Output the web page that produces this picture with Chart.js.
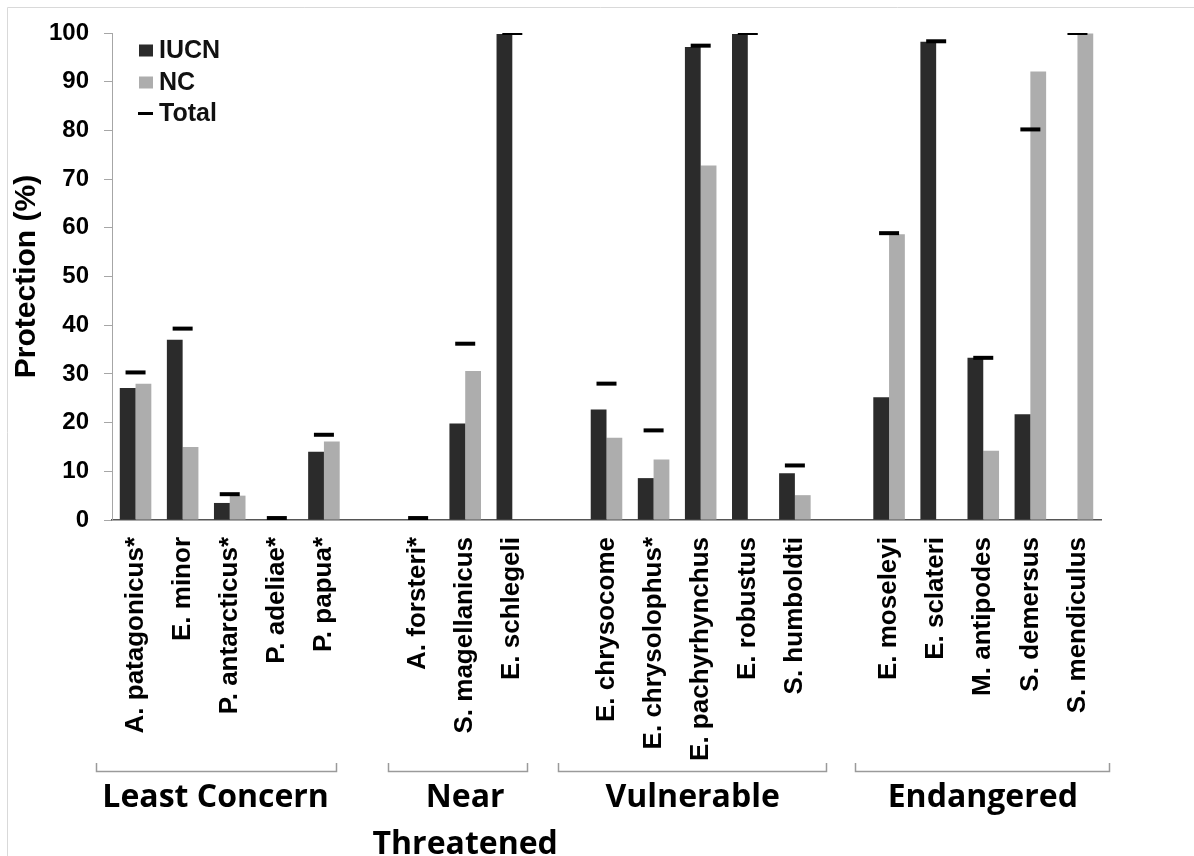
<!DOCTYPE html>
<html>
<head>
<meta charset="utf-8">
<script src="https://cdn.jsdelivr.net/npm/chart.js@4.4.1/dist/chart.umd.min.js"></script>
<style>
html,body{margin:0;padding:0;background:#fff;}
#wrap{width:1194px;height:856px;position:relative;overflow:hidden;}
canvas{display:block;}
</style>
</head>
<body>
<div id="wrap"><canvas id="c" width="1194" height="856"></canvas></div>
<script>
// ---- data ----
const categories = ['A. patagonicus*','E. minor','P. antarcticus*','P. adeliae*','P. papua*','',
  'A. forsteri*','S. magellanicus','E. schlegeli','',
  'E. chrysocome','E. chrysolophus*','E. pachyrhynchus','E. robustus','S. humboldti','',
  'E. moseleyi','E. sclateri','M. antipodes','S. demersus','S. mendiculus'];
const iucnValues  = [27.1,37.0,3.5,0,14.0,null, 0,19.8,99.8,null, 22.7,8.6,97.1,99.8,9.6,null, 25.2,98.2,33.3,21.7,0];
const ncValues    = [28.0,15.0,5.0,0,16.1,null, 0,30.6,0,null, 16.9,12.4,72.8,0,5.1,null, 58.7,0,14.2,92.1,99.9];
const totalValues = [30.3,39.3,5.3,0.4,17.5,null, 0.4,36.2,100,null, 28.0,18.4,97.4,100,11.2,null, 58.9,98.3,33.3,80.2,100];
const seriesNames = ['IUCN','NC','Total'];
const yTickValues = [0,10,20,30,40,50,60,70,80,90,100];
const groupNames = [['Least Concern'],['Near','Threatened'],['Vulnerable'],['Endangered']];

// ---- layout helpers for the group brackets (in category-index units) ----
const groupSpans = [[-0.85,4.26],[5.37,8.32],[8.97,14.67],[15.27,20.68]];
const groupLabelAt = [1.70,7.0,11.83,17.99];

const frame = {
  id:'frame',
  beforeDraw(chart){
    const ctx = chart.ctx;
    ctx.save();
    ctx.strokeStyle = '#d9d9d9';
    ctx.lineWidth = 1;
    ctx.beginPath();
    ctx.moveTo(7.5, 900); ctx.lineTo(7.5, 7.5); ctx.lineTo(1194, 7.5);
    ctx.stroke();
    ctx.restore();
  }
};

const customLegend = {
  id:'customLegend',
  afterDraw(chart){
    const ctx = chart.ctx, ca = chart.chartArea;
    const x0 = ca.left + 27;
    const rows = [ca.top + 17.5, ca.top + 49.5, ca.top + 80.5];
    ctx.save();
    ctx.font = 'bold 25px "Liberation Sans", Arial, sans-serif';
    ctx.textBaseline = 'middle';
    ctx.textAlign = 'left';
    chart.data.datasets.forEach((ds, i) => {
      const y = rows[i];
      if (ds.type === 'line') {
        ctx.strokeStyle = '#000';
        ctx.lineWidth = 3;
        ctx.beginPath();
        ctx.moveTo(x0 - 1, y); ctx.lineTo(x0 + 14, y);
        ctx.stroke();
      } else {
        ctx.fillStyle = ds.backgroundColor;
        ctx.fillRect(x0, y - 6, 14, 12);
      }
      ctx.fillStyle = '#111';
      ctx.fillText(ds.label, x0 + 20, y + 1);
    });
    ctx.restore();
  }
};

const groupBrackets = {
  id:'groupBrackets',
  afterDraw(chart){
    const ctx = chart.ctx, xs = chart.scales.x;
    ctx.save();
    ctx.strokeStyle = '#9a9a9a';
    ctx.lineWidth = 1.5;
    const yLine = 771.5, yTop = 763;
    groupSpans.forEach(([a,b]) => {
      const xa = Math.round(xs.getPixelForValue(a)) + 0.5;
      const xb = Math.round(xs.getPixelForValue(b)) + 0.5;
      ctx.beginPath();
      ctx.moveTo(xa, yTop); ctx.lineTo(xa, yLine); ctx.lineTo(xb, yLine); ctx.lineTo(xb, yTop);
      ctx.stroke();
    });
    ctx.fillStyle = '#000';
    ctx.font = 'bold 32px "Open Sans", "Noto Sans", sans-serif';
    ctx.textAlign = 'center';
    ctx.textBaseline = 'alphabetic';
    groupNames.forEach((lines, i) => {
      const x = xs.getPixelForValue(groupLabelAt[i]);
      lines.forEach((t, j) => ctx.fillText(t, x, 806.5 + j * 47));
    });
    ctx.restore();
  }
};

new Chart(document.getElementById('c'), {
  data: {
    labels: categories,
    datasets: [
      { type:'bar', label: seriesNames[0], data: iucnValues, backgroundColor:'#2b2b2b', borderWidth:0, order:2,
        categoryPercentage:0.67, barPercentage:1.0 },
      { type:'bar', label: seriesNames[1], data: ncValues, backgroundColor:'#adadad', borderWidth:0, order:2,
        categoryPercentage:0.67, barPercentage:1.0 },
      { type:'line', label: seriesNames[2], data: totalValues, showLine:false, order:1,
        pointStyle:'line', pointRadius:10, pointHoverRadius:10, pointBorderWidth:4,
        borderColor:'#000', backgroundColor:'#000', pointBorderColor:'#000' }
    ]
  },
  options: {
    responsive:false,
    animation:false,
    devicePixelRatio:1,
    layout:{ padding:{ top:33, right:93, left:0, bottom:0 } },
    plugins:{ legend:{display:false}, tooltip:{enabled:false} },
    scales:{
      x:{
        type:'category',
        offset:true,
        grid:{ display:false, drawTicks:false, tickLength:0 },
        border:{ display:true, color:'#555', width:1.5 },
        ticks:{ autoSkip:false, maxRotation:90, minRotation:90, padding:17, color:'#000',
          font:{ family:'"Liberation Sans", Arial, sans-serif', size:26, weight:'bold' } },
        afterFit(scale){ scale.height = 336; }
      },
      y:{
        min:0, max:100,
        afterBuildTicks(scale){ scale.ticks = yTickValues.map(v => ({value:v})); },
        grid:{ drawOnChartArea:false, drawTicks:true, tickLength:8, color:'#a6a6a6' },
        border:{ display:true, color:'#a6a6a6', width:1 },
        ticks:{ padding:15, color:'#000',
          font:{ family:'"Liberation Sans", Arial, sans-serif', size:24, weight:'bold' } },
        title:{ display:true, text:'Protection (%)', color:'#000', padding:{top:9,bottom:0},
          font:{ family:'"Liberation Sans", Arial, sans-serif', size:30, weight:'bold' } },
        afterFit(scale){ scale.width = 112; }
      }
    }
  },
  plugins:[frame, customLegend, groupBrackets]
});
</script>
</body>
</html>
